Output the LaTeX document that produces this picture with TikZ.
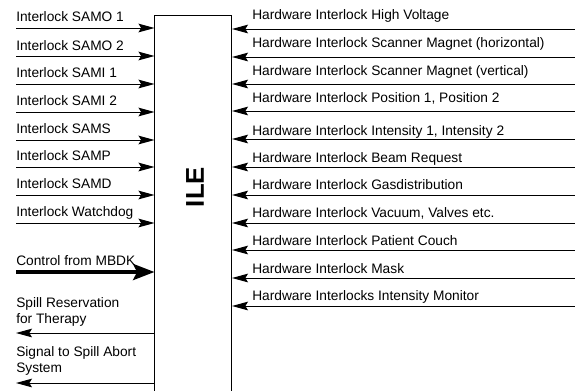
\documentclass[tikz,border=0pt]{standalone}
\usepackage{fontspec}
\setmainfont{Liberation Sans}
\usetikzlibrary{arrows.meta}

\begin{document}
\begin{tikzpicture}[
  x=0.75pt, y=-0.75pt,
  font=\fontsize{10.3pt}{12pt}\selectfont,
  ilebox/.style={rectangle, draw=black, line width=0.75pt,
                 minimum width=57.4pt, minimum height=300pt, inner sep=0pt},
  lbl/.style={inner sep=0pt, anchor=base west},
  lbltwo/.style={inner sep=0pt, anchor=north west, align=left},
  sig/.style={-{Stealth[length=12pt,width=6.5pt,inset=2pt]}, line width=0.75pt},
  ctrl/.style={-{Stealth[length=16pt,width=12pt,inset=3pt]}, line width=3pt}
]
\clip (0,0) rectangle (575,390);

% Central unit
\node[ilebox] (ile) at (193.25,215) {};
\node[font=\fontsize{19.3pt}{22pt}\selectfont\bfseries, rotate=90] (ilename) at (195,187) {ILE};

% Interlock inputs (left)
\node[lbl] (samo1) at (16,21.5) {Interlock SAMO 1};
\node[lbl] (samo2) at (16,50)   {Interlock SAMO 2};
\node[lbl] (sami1) at (16,77)   {Interlock SAMI 1};
\node[lbl] (sami2) at (16,105)  {Interlock SAMI 2};
\node[lbl] (sams)  at (16,133)  {Interlock SAMS};
\node[lbl] (samp)  at (16,160)  {Interlock SAMP};
\node[lbl] (samd)  at (16,188)  {Interlock SAMD};
\node[lbl] (wdog)  at (16,216)  {Interlock Watchdog};
\node[lbl] (mbdk)  at (16,265)  {Control from MBDK};

\coordinate (i1) at (16,28);
\coordinate (i2) at (16,56);
\coordinate (i3) at (16,84);
\coordinate (i4) at (16,112);
\coordinate (i5) at (16,140);
\coordinate (i6) at (16,167);
\coordinate (i7) at (16,195);
\coordinate (i8) at (16,223);
\coordinate (ictrl) at (16,272);

\draw[sig] (i1) -- (i1 -| ile.west);
\draw[sig] (i2) -- (i2 -| ile.west);
\draw[sig] (i3) -- (i3 -| ile.west);
\draw[sig] (i4) -- (i4 -| ile.west);
\draw[sig] (i5) -- (i5 -| ile.west);
\draw[sig] (i6) -- (i6 -| ile.west);
\draw[sig] (i7) -- (i7 -| ile.west);
\draw[sig] (i8) -- (i8 -| ile.west);
\draw[ctrl] (ictrl) -- (ictrl -| ile.west);

% Outputs (left)
\node[lbltwo] (spill) at (16,297) {Spill Reservation\\for Therapy};
\node[lbltwo] (abort) at (16,346) {Signal to Spill Abort\\System};

\coordinate (o1) at (16,333);
\coordinate (o2) at (16,383);

\draw[sig] (o1 -| ile.west) -- (o1);
\draw[sig] (o2 -| ile.west) -- (o2);

% Hardware interlocks (right)
\node[lbl] (hv)    at (252,19)  {Hardware Interlock High Voltage};
\node[lbl] (smh)   at (252,47)  {Hardware Interlock Scanner Magnet (horizontal)};
\node[lbl] (smv)   at (252,75)  {Hardware Interlock Scanner Magnet (vertical)};
\node[lbl] (pos)   at (252,102) {Hardware Interlock Position 1, Position 2};
\node[lbl] (inty)  at (252,135) {Hardware Interlock Intensity 1, Intensity 2};
\node[lbl] (beam)  at (252,162) {Hardware Interlock Beam Request};
\node[lbl] (gas)   at (252,189) {Hardware Interlock Gasdistribution};
\node[lbl] (vac)   at (252,217) {Hardware Interlock Vacuum, Valves etc.};
\node[lbl] (couch) at (252,245) {Hardware Interlock Patient Couch};
\node[lbl] (mask)  at (252,273) {Hardware Interlock Mask};
\node[lbl] (imon)  at (252,300) {Hardware Interlocks Intensity Monitor};

\coordinate (h1)  at (575,29);
\coordinate (h2)  at (575,57);
\coordinate (h3)  at (575,84);
\coordinate (h4)  at (575,111);
\coordinate (h5)  at (575,139);
\coordinate (h6)  at (575,167);
\coordinate (h7)  at (575,195);
\coordinate (h8)  at (575,223);
\coordinate (h9)  at (575,250);
\coordinate (h10) at (575,278);
\coordinate (h11) at (575,306);

\draw[sig] (h1)  -- (h1 -| ile.east);
\draw[sig] (h2)  -- (h2 -| ile.east);
\draw[sig] (h3)  -- (h3 -| ile.east);
\draw[sig] (h4)  -- (h4 -| ile.east);
\draw[sig] (h5)  -- (h5 -| ile.east);
\draw[sig] (h6)  -- (h6 -| ile.east);
\draw[sig] (h7)  -- (h7 -| ile.east);
\draw[sig] (h8)  -- (h8 -| ile.east);
\draw[sig] (h9)  -- (h9 -| ile.east);
\draw[sig] (h10) -- (h10 -| ile.east);
\draw[sig] (h11) -- (h11 -| ile.east);

\end{tikzpicture}
\end{document}
